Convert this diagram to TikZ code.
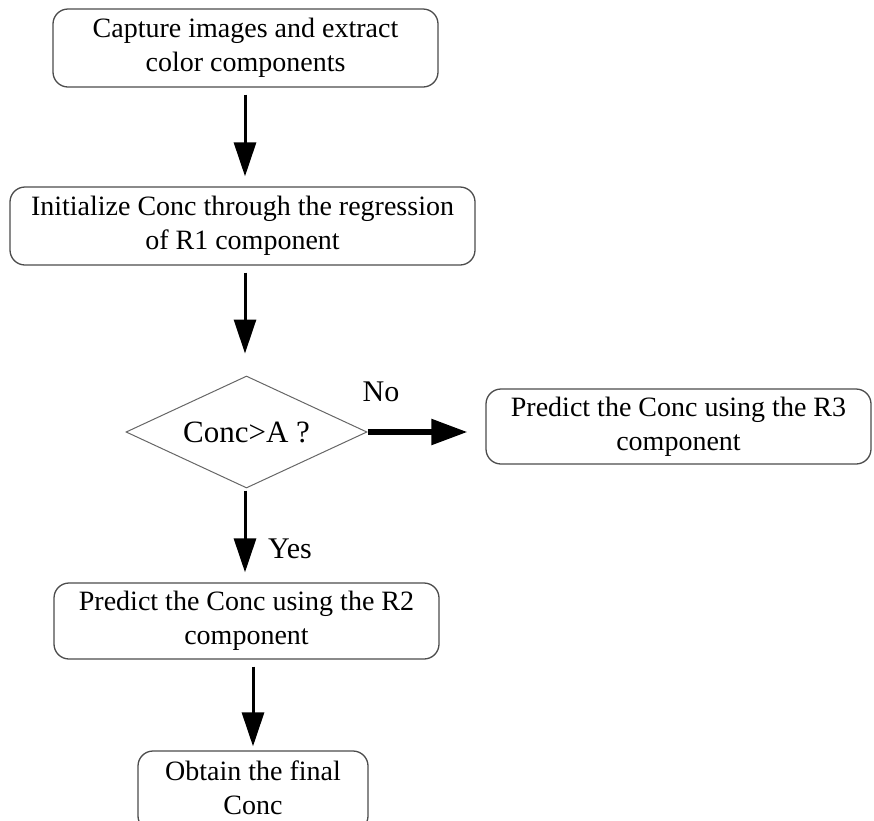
\documentclass[tikz,border=0pt]{standalone}
\usepackage{fontspec}
\setmainfont{Liberation Serif}
\usetikzlibrary{shapes.geometric,arrows.meta}
\begin{document}
\begin{tikzpicture}[x=1pt,y=-1pt,
  stepbox/.style={draw=black!70, line width=1.3pt, rounded corners=15pt, align=center,
    font=\fontsize{28}{34}\selectfont, inner sep=0pt},
  decision/.style={draw=black!60, line width=1pt, shape=diamond, aspect=2.15, inner sep=0pt,
    minimum width=241pt, minimum height=112pt, font=\fontsize{31}{36}\selectfont},
  flow/.style={line width=3pt, -{Triangle[length=34pt,width=22pt]}},
  lbl/.style={font=\fontsize{30}{36}\selectfont}
]
\useasboundingbox (0,0) rectangle (874,820);
\clip (0,0) rectangle (874,820);
\node[stepbox, minimum width=385pt, minimum height=78pt] (b1) at (245.5,48) {Capture images and extract\\color components};
\node[stepbox, minimum width=465pt, minimum height=78pt] (b2) at (242.5,226) {Initialize Conc through the regression\\of R1 component};
\node[decision] (d) at (246.5,432) {Conc>A ?};
\node[stepbox, minimum width=385pt, minimum height=75pt] (b3) at (678.5,426.5) {Predict the Conc using the R3\\component};
\node[stepbox, minimum width=385pt, minimum height=76pt] (b4) at (246.5,621) {Predict the Conc using the R2\\component};
\node[draw=black!70, line width=1.3pt, rounded corners=15pt, minimum width=230pt, minimum height=80pt] (b5) at (253,791) {};
\node[align=center, font=\fontsize{28}{34}\selectfont, inner sep=0pt] (b5t) at (253,788) {Obtain the final\\Conc};
\node[lbl] (no) at (381,392) {No};
\node[lbl] (yes) at (290,549) {Yes};
\draw[flow, shorten <=7pt, shorten >=10pt] (b1.south -| 245,0) -- (b2.north -| 245,0);
\draw[flow, shorten <=7pt, shorten >=22pt] (b2.south -| 245,0) -- (d.north -| 245,0);
\draw[line width=5.5pt, -{Triangle[length=36pt,width=25pt]}, shorten >=18pt] (d.east) -- (d.east -| b3.west);
\draw[flow, shorten <=2pt, shorten >=10pt] (d.south -| 245,0) -- (b4.north -| 245,0);
\draw[flow, shorten <=7pt, shorten >=4pt] (b4.south -| b5.north) -- (b5.north);
\end{tikzpicture}
\end{document}
